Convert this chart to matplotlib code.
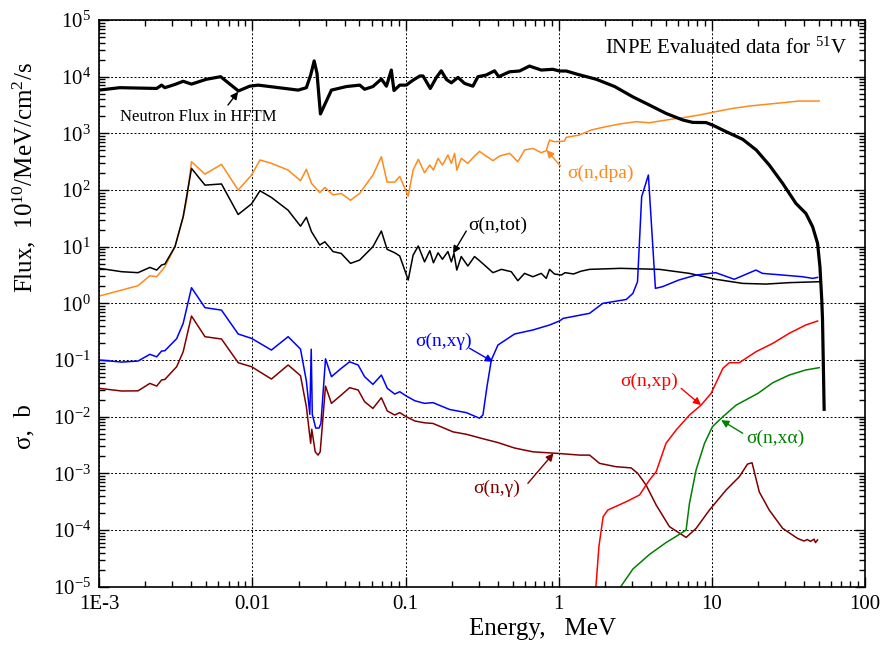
import numpy as np
import matplotlib
matplotlib.use("Agg")
import matplotlib.pyplot as plt
from matplotlib.ticker import LogLocator, FixedLocator, FixedFormatter, FuncFormatter, NullFormatter

plt.rcParams['font.family'] = ['Liberation Serif', 'DejaVu Serif']
plt.rcParams['mathtext.fontset'] = 'custom'
plt.rcParams['mathtext.rm'] = 'Liberation Serif'
plt.rcParams['mathtext.it'] = 'Liberation Serif:italic'
plt.rcParams['mathtext.bf'] = 'Liberation Serif:bold'

# neutron flux in HFTM, 1e10/MeV/cm2/s
flux_e = [1.0e-3, 1.36e-3, 2.37e-3, 2.55e-3, 2.68e-3, 3.12e-3, 3.53e-3, 4.0e-3, 5.0e-3, 6.2e-3,
          8.1e-3, 9.6e-3, 1.09e-2, 1.99e-2, 2.25e-2, 2.4e-2, 2.53e-2, 2.64e-2, 2.78e-2, 3.28e-2,
          4.11e-2, 5.02e-2, 5.4e-2, 6.12e-2, 6.95e-2, 7.5e-2, 8.07e-2, 8.4e-2, 9.16e-2, 0.101,
          0.112, 0.124, 0.13, 0.145, 0.159, 0.171, 0.185, 0.199, 0.22, 0.243,
          0.275, 0.297, 0.336, 0.381, 0.406, 0.477, 0.555, 0.644, 0.769, 0.915,
          1.01, 1.12, 1.33, 1.76, 2.32, 3.05, 3.91, 5.02, 6.46, 7.5,
          9.17, 10.1, 12.4, 15.9, 19.5, 23.7, 29.0, 35.4, 41.1, 45.5,
          49.0, 50.8, 52.2, 52.8, 54.1]
flux = [5.8e3, 6.4e3, 6.2e3, 7.1e3, 6.4e3, 7.3e3, 8.3e3, 7.4e3, 9.0e3, 1.0e4,
        5.6e3, 6.8e3, 7.1e3, 5.8e3, 6.4e3, 1.07e4, 1.9e4, 1.15e4, 2.2e3, 5.8e3,
        6.7e3, 7.1e3, 6.0e3, 6.7e3, 9.1e3, 6.8e3, 1.31e4, 5.7e3, 7.1e3, 7.1e3,
        8.7e3, 1.03e4, 1.03e4, 6.2e3, 9.7e3, 1.27e4, 8.9e3, 7.8e3, 9.7e3, 7.6e3,
        6.8e3, 1.0e4, 1.07e4, 1.27e4, 1.0e4, 1.22e4, 1.26e4, 1.54e4, 1.31e4, 1.35e4,
        1.26e4, 1.26e4, 1.1e4, 9.0e3, 6.7e3, 4.4e3, 3.16e3, 2.25e3, 1.72e3, 1.56e3,
        1.55e3, 1.4e3, 1.07e3, 785, 508, 276, 131, 58, 38.7, 22.5,
        11.5, 4.4, 1.15, 0.51, 0.0135]

# sigma(n,dpa)
dpa_e = [1.0e-3, 1.12e-3, 1.79e-3, 2.14e-3, 2.37e-3, 2.68e-3, 3.12e-3, 3.53e-3, 3.72e-3, 4.0e-3,
         4.9e-3, 6.28e-3, 8.07e-3, 9.87e-3, 1.12e-2, 1.33e-2, 1.71e-2, 2.06e-2, 2.25e-2, 2.43e-2,
         2.75e-2, 2.97e-2, 3.36e-2, 3.8e-2, 4.37e-2, 5.01e-2, 6.12e-2, 6.95e-2, 7.57e-2, 8.5e-2,
         9.16e-2, 0.104, 0.112, 0.121, 0.133, 0.144, 0.152, 0.163, 0.174, 0.189,
         0.199, 0.209, 0.216, 0.231, 0.255, 0.282, 0.304, 0.328, 0.372, 0.411,
         0.478, 0.541, 0.598, 0.678, 0.769, 0.829, 0.871, 0.938, 1.01, 1.09,
         1.12, 1.36, 1.63, 1.94, 2.49, 3.2, 3.91, 5.02, 6.46, 8.28,
         10.6, 13.7, 17.6, 22.6, 29.0, 37.2, 50.2]
dpa = [1.35, 1.46, 2.05, 3.08, 2.95, 4.4, 10, 33, 67, 316,
       191, 284, 100, 184, 339, 296, 225, 146, 232, 131,
       90, 111, 82, 87, 66, 87, 184, 387, 138, 138,
       174, 78, 225, 348, 202, 276, 225, 362, 276, 415,
       295, 444, 225, 362, 295, 398, 481, 415, 330, 398,
       444, 316, 508, 543, 456, 495, 762, 713, 720, 730,
       851, 933, 1145, 1277, 1462, 1607, 1540, 1717, 1890, 2107,
       2411, 2760, 3035, 3250, 3475, 3720, 3720]

# sigma(n,tot)
tot_e = [1.0e-3, 1.4e-3, 1.79e-3, 2.14e-3, 2.37e-3, 2.55e-3, 2.68e-3, 3.12e-3, 3.53e-3, 4.0e-3,
         4.9e-3, 6.28e-3, 8.07e-3, 9.87e-3, 1.12e-2, 1.33e-2, 1.71e-2, 2.06e-2, 2.25e-2, 2.43e-2,
         2.75e-2, 2.97e-2, 3.36e-2, 3.8e-2, 4.37e-2, 5.01e-2, 6.12e-2, 6.95e-2, 7.57e-2, 8.5e-2,
         9.16e-2, 0.104, 0.112, 0.121, 0.133, 0.144, 0.152, 0.163, 0.174, 0.189,
         0.199, 0.207, 0.216, 0.231, 0.255, 0.282, 0.304, 0.372, 0.422, 0.49,
         0.541, 0.598, 0.678, 0.769, 0.829, 0.871, 0.938, 1.04, 1.1, 1.25,
         1.4, 1.59, 2.54, 4.55, 7.14, 10.6, 15.9, 22.6, 32.0, 50.2]
tot = [4.15, 3.62, 3.48, 4.31, 3.87, 4.75, 4.94, 10, 34, 241,
       122, 128, 37, 57, 97, 74, 44, 23, 33, 18.4,
       10.7, 12.2, 8.2, 7.6, 5.08, 5.8, 10, 18.9, 9.0, 7.8,
       6.85, 2.58, 7.1, 10.3, 5.4, 8.5, 5.2, 7.8, 6.0, 8.2,
       5.4, 7.6, 3.87, 6.7, 4.56, 6.7, 5.66, 3.48, 3.98, 3.62,
       2.51, 3.38, 2.95, 3.38, 2.76, 3.98, 3.3, 3.16, 3.48, 3.3,
       3.7, 3.98, 4.15, 3.98, 3.38, 2.66, 2.25, 2.19, 2.32, 2.41]

# sigma(n,x gamma)
xg_e = [1.0e-3, 1.4e-3, 1.79e-3, 2.14e-3, 2.37e-3, 2.55e-3, 2.68e-3, 3.2e-3, 3.53e-3, 4.0e-3,
        4.9e-3, 6.28e-3, 8.07e-3, 9.87e-3, 1.33e-2, 1.71e-2, 2.06e-2, 2.25e-2, 2.37e-2, 2.42e-2,
        2.46e-2, 2.59e-2, 2.72e-2, 2.8e-2, 3.0e-2, 3.28e-2, 3.8e-2, 4.31e-2, 4.9e-2, 5.4e-2,
        6.12e-2, 6.95e-2, 7.6e-2, 8.5e-2, 9.16e-2, 0.101, 0.115, 0.133, 0.151, 0.194,
        0.249, 0.304, 0.32, 0.34, 0.363, 0.401, 0.515, 0.678, 0.871, 1.01,
        1.07, 1.59, 1.94, 2.76, 3.05, 3.27, 3.48, 3.85, 4.28, 4.76,
        6.08, 7.89, 10.6, 14.0, 19.4, 21.4, 29.0, 39.1, 45.5, 49.0]
xg = [0.1, 0.092, 0.096, 0.126, 0.114, 0.144, 0.146, 0.238, 0.444, 1.89,
      0.84, 0.76, 0.288, 0.241, 0.15, 0.258, 0.156, 0.0427, 0.011, 0.155,
      0.011, 0.0063, 0.0063, 0.0076, 0.105, 0.0508, 0.0713, 0.093, 0.0817, 0.0508,
      0.0372, 0.0543, 0.0316, 0.0251, 0.0276, 0.0232, 0.0191, 0.0172, 0.0177, 0.0134,
      0.0118, 0.0094, 0.0107, 0.0338, 0.1, 0.184, 0.288, 0.339, 0.415, 0.488,
      0.543, 0.667, 1.0, 1.17, 1.5, 2.41, 76, 184, 1.84, 1.97,
      2.58, 3.16, 3.48, 2.66, 3.87, 3.38, 3.16, 2.95, 2.76, 2.87]

# sigma(n,gamma)
ng_e = [1.0e-3, 1.4e-3, 1.79e-3, 2.14e-3, 2.37e-3, 2.55e-3, 2.68e-3, 3.2e-3, 3.53e-3, 4.0e-3,
        4.9e-3, 6.28e-3, 8.07e-3, 9.87e-3, 1.33e-2, 1.71e-2, 2.06e-2, 2.25e-2, 2.4e-2, 2.44e-2,
        2.57e-2, 2.68e-2, 2.77e-2, 3.0e-2, 3.28e-2, 3.8e-2, 4.31e-2, 4.9e-2, 5.4e-2, 6.12e-2,
        6.95e-2, 7.6e-2, 8.5e-2, 9.16e-2, 0.101, 0.115, 0.133, 0.151, 0.204, 0.249,
        0.318, 0.4, 0.515, 0.678, 0.986, 1.37, 1.59, 1.85, 2.37, 2.97,
        3.28, 3.72, 4.33, 5.28, 6.79, 7.89, 9.64, 12.4, 15.1, 17.1,
        18.3, 20.4, 23.7, 29.0, 36.3, 40.0, 42.0, 44.0, 46.5, 47.5, 49.0]
ng = [0.0316, 0.0284, 0.0286, 0.0387, 0.0347, 0.0444, 0.0455, 0.0762, 0.14, 0.597,
      0.258, 0.235, 0.0897, 0.0762, 0.0462, 0.0817, 0.053, 0.015, 0.0034, 0.006,
      0.0024, 0.0021, 0.0024, 0.0347, 0.0172, 0.0241, 0.0325, 0.0296, 0.0184, 0.014,
      0.0216, 0.0126, 0.0107, 0.0118, 0.01, 0.0084, 0.0078, 0.0076, 0.0054, 0.0049,
      0.0041, 0.0035, 0.0028, 0.0024, 0.00225, 0.0021, 0.0021, 0.0015, 0.00131, 0.00125,
      0.001, 6.2e-4, 2.76e-4, 1.15e-4, 7.4e-5, 1.07e-4, 2.25e-4, 5.1e-4, 8.7e-4, 1.46e-3,
      1.54e-3, 4.7e-4, 2.25e-4, 1.07e-4, 7.1e-5, 6.4e-5, 6.8e-5, 6.3e-5, 6.9e-5, 6.0e-5, 6.7e-5]

# sigma(n,xp)
xp_e = [1.75, 1.83, 1.95, 2.09, 2.76, 3.37, 3.91, 4.33, 5.02, 5.84,
        7.14, 8.5, 9.89, 11.8, 13.0, 15.1, 19.4, 25.0, 32.0, 41.0, 49.0]
xp = [1e-5, 5.1e-5, 1.72e-4, 2.25e-4, 3.16e-4, 4.15e-4, 7.6e-4, 1.07e-3, 3.4e-3, 5.8e-3,
      0.0107, 0.016, 0.0258, 0.0713, 0.0897, 0.0897, 0.14, 0.197, 0.296, 0.415, 0.488]

# sigma(n,x alpha)
xa_e = [2.54, 3.05, 3.91, 5.02, 6.14, 6.79, 7.14, 7.89, 8.96, 10.1,
        11.8, 14.4, 20.0, 25.0, 32.0, 41.0, 50.2]
xa = [1e-5, 2.05e-5, 3.7e-5, 6e-5, 8.4e-5, 1e-4, 2.95e-4, 1.15e-3, 3.4e-3, 6.7e-3,
      0.01, 0.016, 0.0258, 0.0398, 0.0543, 0.0667, 0.0733]

x_ticks = [1e-3, 1e-2, 1e-1, 1, 10, 100]
x_labels = ['1E-3', '0.01', '0.1', '1', '10', '100']

c_orange = '#ff8a1c'
c_blue = '#0000ff'
c_maroon = '#800000'
c_red = '#ff0000'
c_green = '#008000'

fig = plt.figure(figsize=(8.85, 6.48), dpi=100)
ax = fig.add_axes([0.1122, 0.0946, 0.8652, 0.8745])
ax.set_xscale('log')
ax.set_yscale('log')

ax.plot(dpa_e, dpa, color=c_orange, lw=1.1)
ax.plot(tot_e, tot, color='black', lw=1.1)
ax.plot(xg_e, xg, color=c_blue, lw=1.1)
ax.plot(ng_e, ng, color=c_maroon, lw=1.1)
ax.plot(xp_e, xp, color=c_red, lw=1.1)
ax.plot(xa_e, xa, color=c_green, lw=1.1)
ax.plot(flux_e, flux, color='black', lw=2.3, zorder=5)

ax.set_xlim(1e-3, 100)
ax.set_ylim(1e-5, 1e5)

ax.xaxis.set_major_locator(FixedLocator(x_ticks))
ax.xaxis.set_major_formatter(FixedFormatter(x_labels))
ax.xaxis.set_minor_locator(LogLocator(base=10, subs=np.arange(2, 10), numticks=20))
ax.xaxis.set_minor_formatter(NullFormatter())
ax.yaxis.set_major_locator(LogLocator(base=10, numticks=20))
ax.yaxis.set_minor_locator(LogLocator(base=10, subs=np.arange(2, 10), numticks=20))
ax.yaxis.set_major_formatter(FuncFormatter(lambda v, p: r'$10^{%d}$' % int(round(np.log10(v)))))
ax.yaxis.set_minor_formatter(NullFormatter())

ax.tick_params(which='both', direction='in', top=True, right=True, width=1.0)
ax.tick_params(which='major', length=7, labelsize=15)
ax.tick_params(which='minor', length=4)
ax.tick_params(axis='x', which='major', pad=6)
ax.tick_params(axis='y', which='major', pad=6)
for s in ax.spines.values():
    s.set_linewidth(1.2)

ax.grid(which='major', color='black', linestyle=(0, (2, 2)), linewidth=0.7)
ax.set_axisbelow(True)

fig.text(0.6126, 0.03, 'Energy,   MeV', fontsize=18, ha='center', va='center')
fig.text(0.028, 1 - 178 / 648, r'Flux,  $10^{10}$/MeV/cm$^{2}$/s', fontsize=18,
         rotation=90, ha='center', va='center')
fig.text(0.028, 1 - 427 / 648, r'σ,  b', fontsize=18, rotation=90, ha='center', va='center')

ax.text(0.9765, 0.9506, r'INPE Evaluated data for $^{51}$V', transform=ax.transAxes,
        fontsize=15, ha='right', va='center')

# curve labels with arrows
arrow = dict(arrowstyle='-|>', lw=1.0, mutation_scale=11, shrinkA=0, shrinkB=0)

ax.text(1.365e-3, 1941, 'Neutron Flux in HFTM', fontsize=12, ha='left', va='center')
ax.annotate('', xy=(8.07e-3, 5430), xytext=(6.92e-3, 3162), arrowprops=dict(arrow, color='black'))

ax.text(0.611, 0.730, 'σ(n,dpa)', transform=ax.transAxes, fontsize=14, color=c_orange,
        ha='left', va='center')
ax.annotate('', xy=(0.832, 508), xytext=(1.027, 265), arrowprops=dict(arrow, color=c_orange))

ax.text(0.399, 24, 'σ(n,tot)', fontsize=14, color='black', ha='center', va='center')
ax.annotate('', xy=(0.204, 7.6), xytext=(0.249, 18.9), arrowprops=dict(arrow, color='black'))

ax.text(0.177, 0.21, 'σ(n,xγ)', fontsize=14, color=c_blue, ha='center', va='center')
ax.annotate('', xy=(0.372, 0.093), xytext=(0.262, 0.161), arrowprops=dict(arrow, color=c_blue))

ax.text(0.393, 5.52e-4, 'σ(n,γ)', fontsize=14, color=c_maroon, ha='center', va='center')
ax.annotate('', xy=(0.925, 2.26e-3), xytext=(0.629, 6.67e-4), arrowprops=dict(arrow, color=c_maroon))

ax.text(3.91, 0.0414, 'σ(n,xp)', fontsize=14, color=c_red, ha='center', va='center')
ax.annotate('', xy=(8.5, 0.016), xytext=(6.3, 0.0316), arrowprops=dict(arrow, color=c_red))

ax.text(25.9, 4.2e-3, 'σ(n,xα)', fontsize=14, color=c_green, ha='center', va='center')
ax.annotate('', xy=(11.5, 8.7e-3), xytext=(15.9, 5.1e-3), arrowprops=dict(arrow, color=c_green))

fig.savefig('out.png', dpi=100)
